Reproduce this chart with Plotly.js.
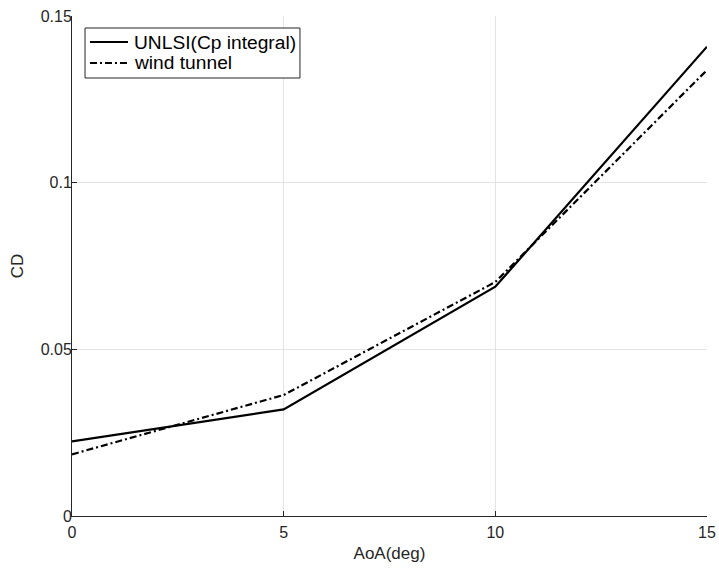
<!DOCTYPE html>
<html>
<head>
<meta charset="utf-8">
<script src="https://cdn.plot.ly/plotly-3.0.1.min.js"></script>
<style>html,body{margin:0;padding:0;background:#fff;}#chart{width:719px;height:569px;}</style>
</head>
<body>
<div id="chart"></div>
<script>
// Angle of attack (deg)
const aoa = [0, 5, 10, 15];
// Drag coefficient from pressure integration
const cdUnlsi = [0.0224, 0.0320, 0.0688, 0.1408];
// Drag coefficient measured in the wind tunnel
const cdTunnel = [0.0185, 0.0363, 0.0702, 0.1338];
const xTicks = [0, 5, 10, 15];
const yTicks = [0, 0.05, 0.1, 0.15];
const yTickText = ['0', '0.05', '0.1', '0.15'];
const seriesNames = ['UNLSI(Cp integral)', 'wind tunnel'];

const axisColor = '#262626';
const dashDot = '7px,3px,2px,3px';
const lineStyles = [
  {color: '#000', width: 2.2, dash: 'solid'},
  {color: '#000', width: 2.2, dash: dashDot}
];

const traces = [
  {x: aoa, y: cdUnlsi, mode: 'lines', name: seriesNames[0], line: lineStyles[0]},
  {x: aoa, y: cdTunnel, mode: 'lines', name: seriesNames[1], line: lineStyles[1]}
];

// Boxed legend in the upper-left corner of the axes (paper coordinates)
const legendBox = {x0: 0.0205, x1: 0.359, y0: 0.876, y1: 0.976};
const legendRows = [0.948, 0.906];
const sampleX = [0.0283, 0.0882];
const textX = 0.0945;

const shapes = [{
  type: 'rect', xref: 'paper', yref: 'paper',
  x0: legendBox.x0, x1: legendBox.x1, y0: legendBox.y0, y1: legendBox.y1,
  fillcolor: '#fff', line: {color: axisColor, width: 1}, layer: 'above'
}];
const annotations = [];
seriesNames.forEach((name, i) => {
  shapes.push({
    type: 'line', xref: 'paper', yref: 'paper',
    x0: sampleX[0], x1: sampleX[1], y0: legendRows[i], y1: legendRows[i],
    line: lineStyles[i], layer: 'above'
  });
  annotations.push({
    xref: 'paper', yref: 'paper', x: textX, y: legendRows[i],
    xanchor: 'left', yanchor: 'middle', showarrow: false, text: name,
    font: {size: 19.2, color: '#000'}
  });
});

const layout = {
  width: 719, height: 569,
  margin: {l: 72, r: 12, t: 16, b: 53},
  paper_bgcolor: '#fff', plot_bgcolor: '#fff',
  font: {family: 'Liberation Sans, Arial, sans-serif', size: 15, color: axisColor},
  showlegend: false,
  shapes: shapes,
  annotations: annotations,
  xaxis: {range: [0, 15], tickvals: xTicks, ticktext: xTicks.map(String),
    showgrid: true, gridcolor: '#e3e3e3', gridwidth: 1,
    zeroline: false, showline: true, linecolor: axisColor, linewidth: 1, mirror: false,
    ticks: 'inside', ticklen: 5, tickcolor: axisColor, ticklabelstandoff: 2,
    tickfont: {size: 16, color: axisColor},
    title: {text: 'AoA(deg)', font: {size: 17, color: axisColor}, standoff: 6}},
  yaxis: {range: [0, 0.15], tickvals: yTicks, ticktext: yTickText,
    showgrid: true, gridcolor: '#e3e3e3', gridwidth: 1,
    zeroline: false, showline: true, linecolor: axisColor, linewidth: 1, mirror: false,
    ticks: 'inside', ticklen: 5, tickcolor: axisColor, ticklabelstandoff: -4,
    tickfont: {size: 16, color: axisColor},
    title: {text: 'CD', font: {size: 17, color: axisColor}, standoff: 12}}
};

Plotly.newPlot('chart', traces, layout, {displayModeBar: false, staticPlot: true});
</script>
</body>
</html>
